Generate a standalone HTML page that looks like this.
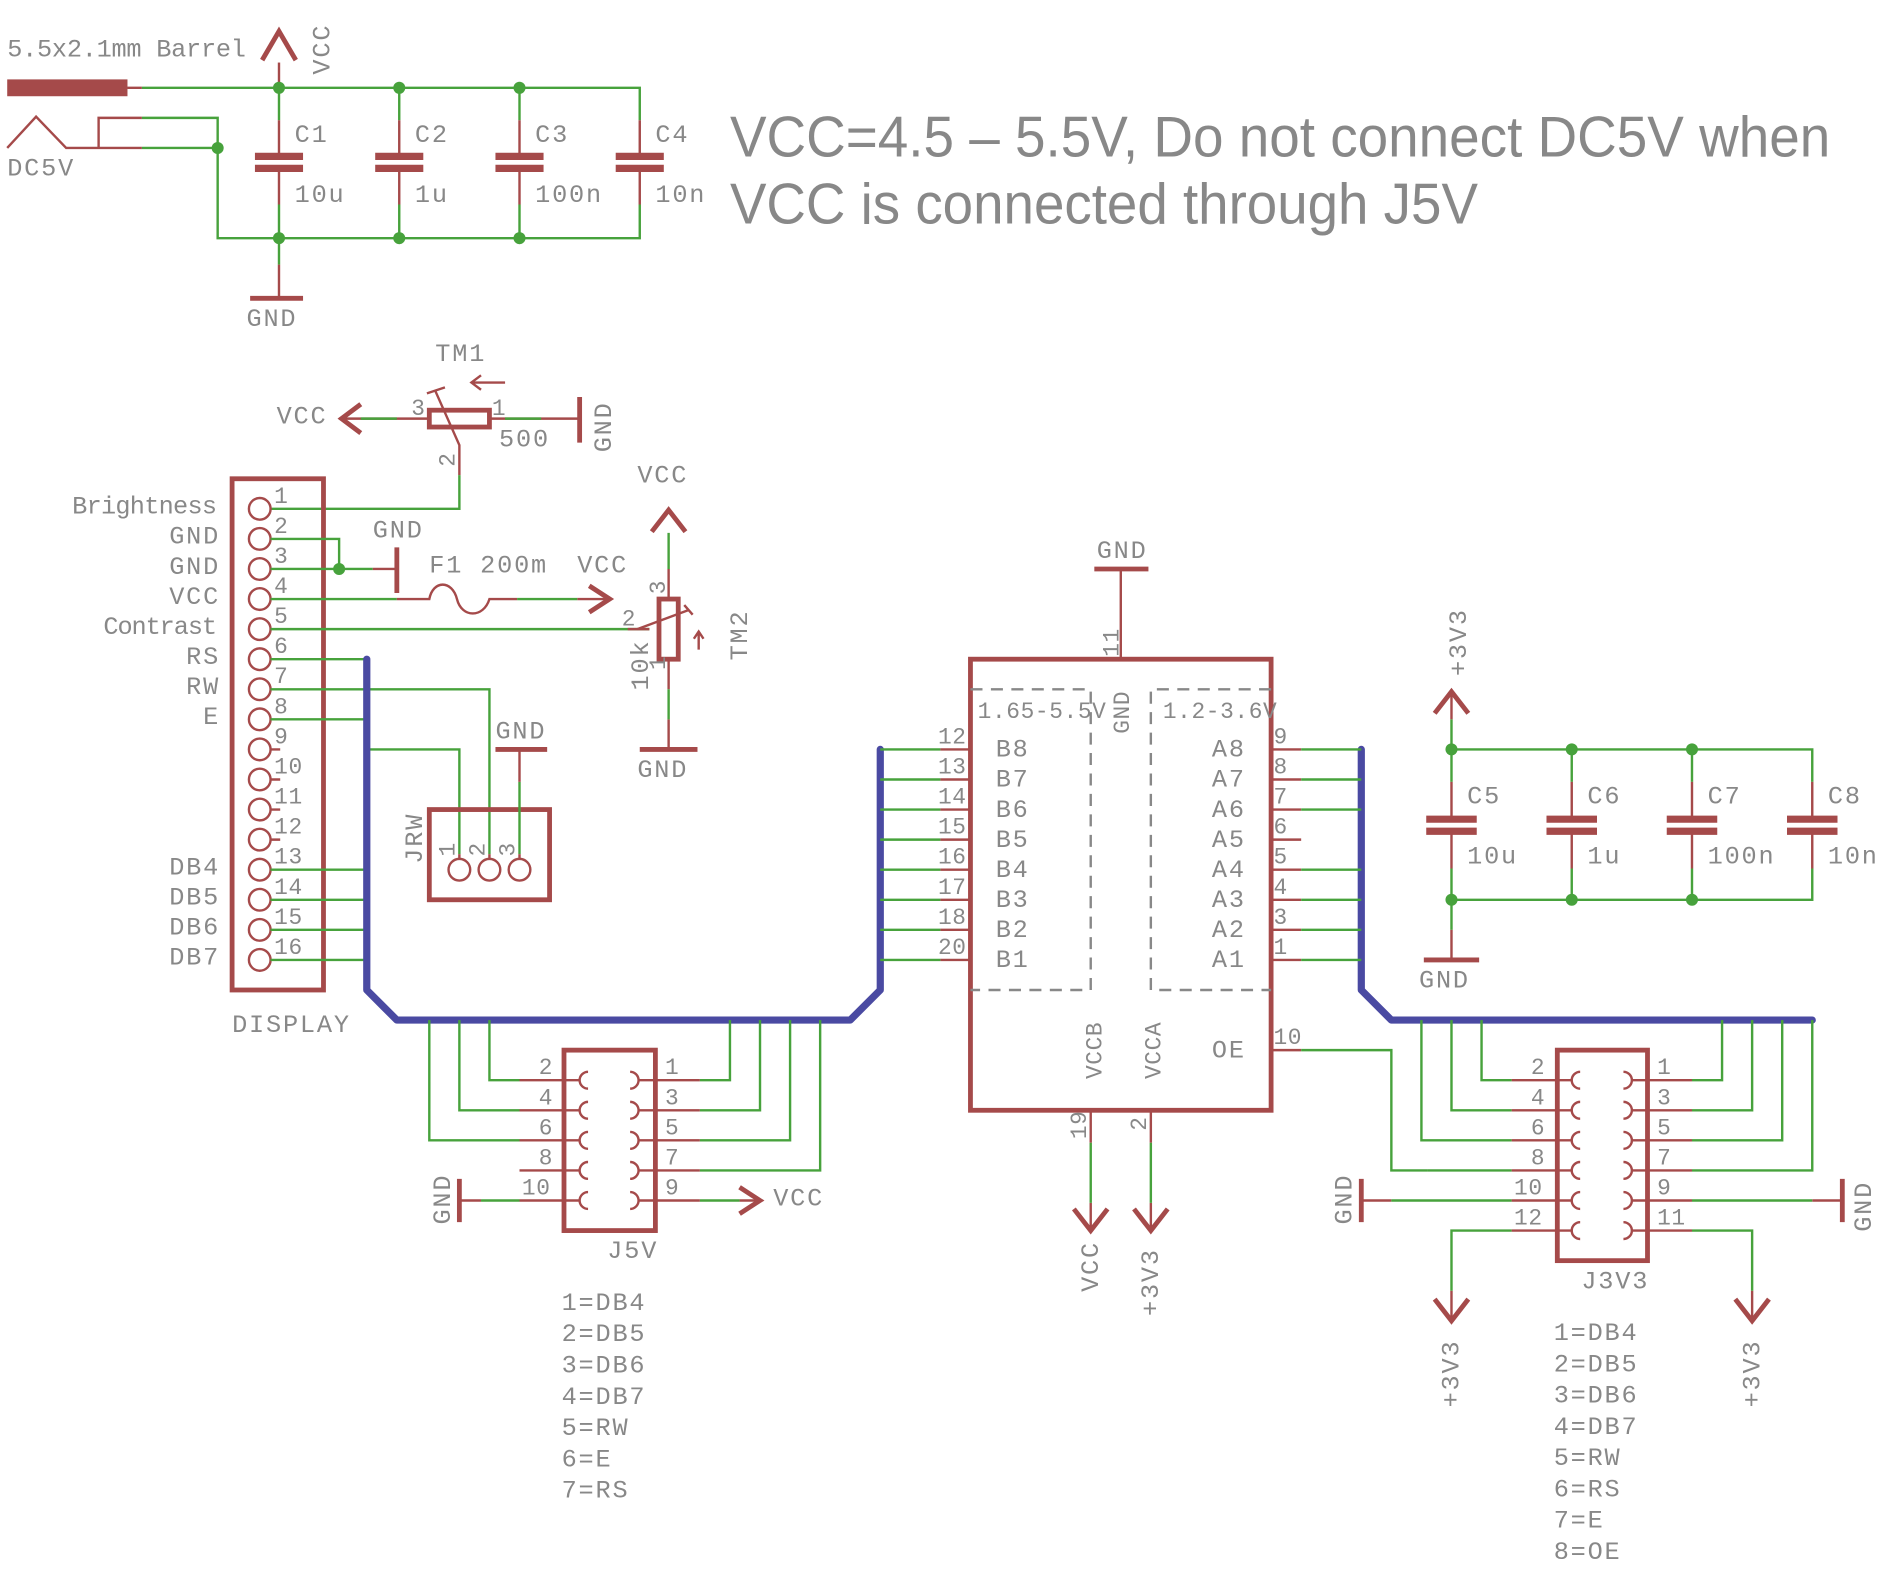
<!DOCTYPE html>
<html><head><meta charset="utf-8"><style>
html,body{margin:0;padding:0;background:#fff}
svg{display:block}
.r{stroke:#a54a4a;stroke-width:2;fill:none}
.R{stroke:#a54a4a;stroke-width:4;fill:none}
.g{stroke:#47a23c;stroke-width:2;fill:none}
.b{stroke:#4a4aa2;stroke-width:6;fill:none;stroke-linejoin:round;stroke-linecap:round}
.p{stroke:#a54a4a;stroke-width:6;fill:none}
.d{stroke:#888;stroke-width:2;fill:none;stroke-dasharray:10 7}
text{fill:#888;font-family:"Liberation Mono",monospace;font-size:21px;letter-spacing:1.5px}
.s{font-size:19px;letter-spacing:0.5px}
.big{font-family:"Liberation Sans",sans-serif;font-size:48px;letter-spacing:0}
.j{fill:#47a23c}
</style></head><body>
<svg width="1882" height="1571" viewBox="0 0 1565 1306" preserveAspectRatio="none" xmlns="http://www.w3.org/2000/svg">
<!-- TOP POWER -->
<rect x="6" y="66" width="100" height="14" fill="#a54a4a"/>
<path class="r" d="M106 73H118"/>
<path class="g" d="M118 73H532V100M232 73V100M332 73V100M432 73V100"/>
<path class="r" d="M232 73V52"/>
<path class="R" d="M218 50L232 26L246 50"/>
<path class="r" d="M6 123L30 97L55 123H118M82 123V98H118"/>
<path class="g" d="M118 98H181V198H532V170M118 123H181M232 198V170M332 198V170M432 198V170M232 198V220"/>
<path class="r" d="M232 100V130M332 100V130M432 100V130M532 100V130M232 140V170M332 140V170M432 140V170M532 140V170M232 220V248"/>
<path class="R" d="M208 248H252"/>
<path class="p" d="M212 130H252M212 140H252M312 130H352M312 140H352M412 130H452M412 140H452M512 130H552M512 140H552"/>
<g class="j"><circle cx="232" cy="73" r="5"/><circle cx="332" cy="73" r="5"/><circle cx="432" cy="73" r="5"/><circle cx="232" cy="198" r="5"/><circle cx="332" cy="198" r="5"/><circle cx="432" cy="198" r="5"/><circle cx="181" cy="123" r="5"/></g>
<text x="6" y="47" textLength="200" lengthAdjust="spacing">5.5x2.1mm Barrel</text>
<text x="6" y="146">DC5V</text>
<text transform="translate(274,62) rotate(-90)">VCC</text>
<text x="245" y="118">C1</text><text x="245" y="168">10u</text>
<text x="345" y="118">C2</text><text x="345" y="168">1u</text>
<text x="445" y="118">C3</text><text x="445" y="168">100n</text>
<text x="545" y="118">C4</text><text x="545" y="168">10n</text>
<text x="205" y="271">GND</text>
<text class="big" x="607" y="130" textLength="915" lengthAdjust="spacingAndGlyphs">VCC=4.5 – 5.5V, Do not connect DC5V when</text>
<text class="big" x="607" y="186" textLength="622" lengthAdjust="spacingAndGlyphs">VCC is connected through J5V</text>

<!-- TM1 -->
<text x="362" y="300">TM1</text>
<rect class="R" x="357" y="341" width="50" height="14"/>
<path class="r" d="M357 348H282M407 348H482"/>
<path class="R" d="M300 336L284 348L300 360M482 330V368"/>
<path class="g" d="M300 348H330M420 348H450"/>
<path class="r" d="M362 325L382 370V395M355 327L370 322M420 318H393M400 312L392 318L400 324"/>
<path class="g" d="M382 395V423H225"/>
<text x="230" y="352">VCC</text>
<text class="s" x="342" y="345">3</text><text class="s" x="409" y="345">1</text>
<text x="415" y="371">500</text>
<text transform="translate(508,376) rotate(-90)">GND</text>
<text class="s" transform="translate(378,388) rotate(-90)">2</text>

<!-- DISPLAY -->
<rect class="R" x="193" y="398" width="76" height="425"/>
<g class="r">
<circle cx="216" cy="423" r="9"/><circle cx="216" cy="448" r="9"/><circle cx="216" cy="473" r="9"/><circle cx="216" cy="498" r="9"/>
<circle cx="216" cy="523" r="9"/><circle cx="216" cy="548" r="9"/><circle cx="216" cy="573" r="9"/><circle cx="216" cy="598" r="9"/>
<circle cx="216" cy="623" r="9"/><circle cx="216" cy="648" r="9"/><circle cx="216" cy="673" r="9"/><circle cx="216" cy="698" r="9"/>
<circle cx="216" cy="723" r="9"/><circle cx="216" cy="748" r="9"/><circle cx="216" cy="773" r="9"/><circle cx="216" cy="798" r="9"/>
<path d="M225 623H233M225 648H233M225 673H233M225 698H233"/>
</g>
<text class="s" x="228" y="418">1</text><text class="s" x="228" y="443">2</text><text class="s" x="228" y="468">3</text><text class="s" x="228" y="493">4</text>
<text class="s" x="228" y="518">5</text><text class="s" x="228" y="543">6</text><text class="s" x="228" y="568">7</text><text class="s" x="228" y="593">8</text>
<text class="s" x="228" y="618">9</text><text class="s" x="228" y="643">10</text><text class="s" x="228" y="668">11</text><text class="s" x="228" y="693">12</text>
<text class="s" x="228" y="718">13</text><text class="s" x="228" y="743">14</text><text class="s" x="228" y="768">15</text><text class="s" x="228" y="793">16</text>
<text x="60" y="427" textLength="122" lengthAdjust="spacing">Brightness</text>
<text x="86" y="527" textLength="96" lengthAdjust="spacing">Contrast</text>
<g text-anchor="end">
<text x="183" y="452">GND</text><text x="183" y="477">GND</text><text x="183" y="502">VCC</text>
<text x="183" y="552">RS</text><text x="183" y="577">RW</text><text x="183" y="602">E</text>
<text x="183" y="727">DB4</text><text x="183" y="752">DB5</text><text x="183" y="777">DB6</text><text x="183" y="802">DB7</text>
</g>
<text x="193" y="858">DISPLAY</text>
<path class="g" d="M225 448H282V473M225 473H310M225 498H330M225 523H540M225 548H305M225 573H407V710M225 598H305M305 623H382V710M225 723H305M225 748H305M225 773H305M225 798H305"/>
<circle class="j" cx="282" cy="473" r="5"/>
<path class="r" d="M310 473H330"/>
<path class="R" d="M330 455V493"/>
<text x="310" y="447">GND</text>
<!-- fuse -->
<path class="r" d="M330 498H357C360 482 376 482 380 498C384 514 402 514 407 498H430M480 498H507"/>
<path class="g" d="M430 498H480"/>
<path class="R" d="M490 487L507 498L490 509"/>
<text x="357" y="476">F1 200m</text>
<text x="480" y="476">VCC</text>
<!-- TM2 -->
<rect class="R" x="548" y="498" width="16" height="50"/>
<path class="r" d="M540 523H522"/>
<path class="r" d="M556 498V473M556 548V573M556 598V623M530 523L573 507M569 503L576 511M581 540V525M577 531L581 525L585 531"/>
<path class="R" d="M542 442L556 424L570 442M532 623H580"/>
<path class="g" d="M556 473V443M556 573V598"/>
<text x="530" y="401">VCC</text>
<text x="530" y="646">GND</text>
<text class="s" x="517" y="520">2</text>
<text class="s" transform="translate(553,494) rotate(-90)">3</text>
<text class="s" transform="translate(553,557) rotate(-90)">1</text>
<text transform="translate(539,574) rotate(-90)">10k</text>
<text transform="translate(621,549) rotate(-90)">TM2</text>
<!-- JRW -->
<rect class="R" x="357" y="673" width="100" height="75"/>
<g class="r"><circle cx="382" cy="723" r="9"/><circle cx="407" cy="723" r="9"/><circle cx="432" cy="723" r="9"/></g>
<path class="g" d="M432 710V650"/>
<path class="r" d="M382 710V714M407 710V714M432 714V710M432 650V623"/>
<path class="R" d="M412 623H455"/>
<text x="412" y="614">GND</text>
<text transform="translate(351,718) rotate(-90)">JRW</text>
<text class="s" transform="translate(378,712) rotate(-90)">1</text>
<text class="s" transform="translate(403,712) rotate(-90)">2</text>
<text class="s" transform="translate(428,712) rotate(-90)">3</text>

<!-- BUSES -->
<path class="b" d="M305 548V823L330 848H707L732 823V623"/>
<path class="b" d="M1132 623V823L1157 848H1507"/>

<!-- J5V -->
<rect class="R" x="469" y="873" width="76" height="150"/>
<g class="r" stroke-width="3">
<path d="M489 891A7 7 0 0 0 489 905M489 916A7 7 0 0 0 489 930M489 941A7 7 0 0 0 489 955M489 966A7 7 0 0 0 489 980M489 991A7 7 0 0 0 489 1005"/>
<path d="M524 891A7 7 0 0 1 524 905M524 916A7 7 0 0 1 524 930M524 941A7 7 0 0 1 524 955M524 966A7 7 0 0 1 524 980M524 991A7 7 0 0 1 524 1005"/>
</g>
<path class="r" d="M432 898H482M432 923H482M432 948H482M432 973H482M432 998H482M531 898H582M531 923H582M531 948H582M531 973H582M531 998H582M382 998H400M615 998H632"/>
<path class="R" d="M382 980V1016M615 987L632 998L615 1009"/>
<path class="g" d="M407 848V898H432M382 848V923H432M357 848V948H432M400 998H432M582 898H607V848M582 923H632V848M582 948H657V848M582 973H682V848M582 998H615"/>
<text class="s" x="448" y="893">2</text><text class="s" x="448" y="918">4</text><text class="s" x="448" y="943">6</text><text class="s" x="448" y="968">8</text><text class="s" x="434" y="993">10</text>
<text class="s" x="553" y="893">1</text><text class="s" x="553" y="918">3</text><text class="s" x="553" y="943">5</text><text class="s" x="553" y="968">7</text><text class="s" x="553" y="993">9</text>
<text x="643" y="1002">VCC</text>
<text transform="translate(374,1018) rotate(-90)">GND</text>
<text x="505" y="1046">J5V</text>
<text x="467" y="1089">1=DB4</text><text x="467" y="1115">2=DB5</text><text x="467" y="1141">3=DB6</text><text x="467" y="1167">4=DB7</text><text x="467" y="1193">5=RW</text><text x="467" y="1219">6=E</text><text x="467" y="1245">7=RS</text>

<!-- U1 -->
<rect class="R" x="807" y="548" width="250" height="375"/>
<path class="d" d="M807 573H907V823H807M1057 573H957V823H1057"/>
<path class="r" d="M932 548V473"/>
<path class="R" d="M910 473H955"/>
<text x="912" y="464">GND</text>
<text class="s" transform="translate(930,546) rotate(-90)">11</text>
<text class="s" transform="translate(939,610) rotate(-90)">GND</text>
<text class="s" x="813" y="597">1.65-5.5V</text>
<text class="s" x="967" y="597">1.2-3.6V</text>
<path class="r" d="M782 623H807M782 648H807M782 673H807M782 698H807M782 723H807M782 748H807M782 773H807M782 798H807"/>
<path class="g" d="M732 623H782M732 648H782M732 673H782M732 698H782M732 723H782M732 748H782M732 773H782M732 798H782"/>
<text class="s" x="780" y="618">12</text><text class="s" x="780" y="643">13</text><text class="s" x="780" y="668">14</text><text class="s" x="780" y="693">15</text><text class="s" x="780" y="718">16</text><text class="s" x="780" y="743">17</text><text class="s" x="780" y="768">18</text><text class="s" x="780" y="793">20</text>
<text x="828" y="629">B8</text><text x="828" y="654">B7</text><text x="828" y="679">B6</text><text x="828" y="704">B5</text><text x="828" y="729">B4</text><text x="828" y="754">B3</text><text x="828" y="779">B2</text><text x="828" y="804">B1</text>
<g text-anchor="end"><text x="1036" y="629">A8</text><text x="1036" y="654">A7</text><text x="1036" y="679">A6</text><text x="1036" y="704">A5</text><text x="1036" y="729">A4</text><text x="1036" y="754">A3</text><text x="1036" y="779">A2</text><text x="1036" y="804">A1</text><text x="1036" y="879">OE</text></g>
<path class="r" d="M1057 623H1082M1057 648H1082M1057 673H1082M1057 698H1082M1057 723H1082M1057 748H1082M1057 773H1082M1057 798H1082M1057 873H1082"/>
<path class="g" d="M1082 623H1132M1082 648H1132M1082 673H1132M1082 723H1132M1082 748H1132M1082 773H1132M1082 798H1132M1082 873H1157V973H1187"/>
<text class="s" x="1059" y="618">9</text><text class="s" x="1059" y="643">8</text><text class="s" x="1059" y="668">7</text><text class="s" x="1059" y="693">6</text><text class="s" x="1059" y="718">5</text><text class="s" x="1059" y="743">4</text><text class="s" x="1059" y="768">3</text><text class="s" x="1059" y="793">1</text><text class="s" x="1059" y="868">10</text>
<text class="s" transform="translate(916,897) rotate(-90)">VCCB</text>
<text class="s" transform="translate(965,897) rotate(-90)">VCCA</text>
<path class="r" d="M907 923V950M957 923V950M907 1000V1023M957 1000V1023"/>
<path class="g" d="M907 950V1000M957 950V1000"/>
<path class="R" d="M893 1005L907 1023L921 1005M943 1005L957 1023L971 1005"/>
<text class="s" transform="translate(903,947) rotate(-90)">19</text>
<text class="s" transform="translate(953,940) rotate(-90)">2</text>
<text transform="translate(913,1074) rotate(-90)">VCC</text>
<text transform="translate(963,1094) rotate(-90)">+3V3</text>

<!-- right caps -->
<path class="r" d="M1207 573V598"/>
<path class="R" d="M1193 593L1207 575L1221 593"/>
<path class="g" d="M1207 598V650M1207 623H1507V650M1307 623V650M1407 623V650M1207 722V773M1207 748H1507V722M1307 748V722M1407 748V722"/>
<path class="r" d="M1207 650V680M1307 650V680M1407 650V680M1507 650V680M1207 692V722M1307 692V722M1407 692V722M1507 692V722M1207 773V798"/>
<path class="R" d="M1184 798H1230"/>
<path class="p" d="M1186 681H1228M1186 691H1228M1286 681H1328M1286 691H1328M1386 681H1428M1386 691H1428M1486 681H1528M1486 691H1528"/>
<g class="j"><circle cx="1207" cy="623" r="5"/><circle cx="1307" cy="623" r="5"/><circle cx="1407" cy="623" r="5"/><circle cx="1207" cy="748" r="5"/><circle cx="1307" cy="748" r="5"/><circle cx="1407" cy="748" r="5"/></g>
<text transform="translate(1219,562) rotate(-90)">+3V3</text>
<text x="1220" y="668">C5</text><text x="1220" y="718">10u</text>
<text x="1320" y="668">C6</text><text x="1320" y="718">1u</text>
<text x="1420" y="668">C7</text><text x="1420" y="718">100n</text>
<text x="1520" y="668">C8</text><text x="1520" y="718">10n</text>
<text x="1180" y="821">GND</text>

<!-- J3V3 -->
<rect class="R" x="1295" y="873" width="75" height="175"/>
<g class="r" stroke-width="3">
<path d="M1314 891A7 7 0 0 0 1314 905M1314 916A7 7 0 0 0 1314 930M1314 941A7 7 0 0 0 1314 955M1314 966A7 7 0 0 0 1314 980M1314 991A7 7 0 0 0 1314 1005M1314 1016A7 7 0 0 0 1314 1030"/>
<path d="M1350 891A7 7 0 0 1 1350 905M1350 916A7 7 0 0 1 1350 930M1350 941A7 7 0 0 1 1350 955M1350 966A7 7 0 0 1 1350 980M1350 991A7 7 0 0 1 1350 1005M1350 1016A7 7 0 0 1 1350 1030"/>
</g>
<path class="r" d="M1257 898H1307M1257 923H1307M1257 948H1307M1257 973H1307M1257 998H1307M1257 1023H1307M1357 898H1407M1357 923H1407M1357 948H1407M1357 973H1407M1357 998H1407M1357 1023H1407M1132 998H1157M1507 998H1532M1207 1073V1098M1457 1073V1098"/>
<path class="R" d="M1132 980V1016M1532 980V1016M1193 1080L1207 1098L1221 1080M1443 1080L1457 1098L1471 1080"/>
<path class="g" d="M1232 848V898H1257M1207 848V923H1257M1182 848V948H1257M1187 973H1257M1157 998H1257M1257 1023H1207V1073M1407 898H1432V848M1407 923H1457V848M1407 948H1482V848M1407 973H1507V848M1407 998H1507M1407 1023H1457V1073"/>
<text class="s" x="1273" y="893">2</text><text class="s" x="1273" y="918">4</text><text class="s" x="1273" y="943">6</text><text class="s" x="1273" y="968">8</text><text class="s" x="1259" y="993">10</text><text class="s" x="1259" y="1018">12</text>
<text class="s" x="1378" y="893">1</text><text class="s" x="1378" y="918">3</text><text class="s" x="1378" y="943">5</text><text class="s" x="1378" y="968">7</text><text class="s" x="1378" y="993">9</text><text class="s" x="1378" y="1018">11</text>
<text transform="translate(1124,1018) rotate(-90)">GND</text>
<text transform="translate(1556,1024) rotate(-90)">GND</text>
<text x="1315" y="1071">J3V3</text>
<text transform="translate(1213,1170) rotate(-90)">+3V3</text>
<text transform="translate(1463,1170) rotate(-90)">+3V3</text>
<text x="1292" y="1114">1=DB4</text><text x="1292" y="1140">2=DB5</text><text x="1292" y="1166">3=DB6</text><text x="1292" y="1192">4=DB7</text><text x="1292" y="1218">5=RW</text><text x="1292" y="1244">6=RS</text><text x="1292" y="1270">7=E</text><text x="1292" y="1296">8=OE</text>
</svg>
</body></html>
